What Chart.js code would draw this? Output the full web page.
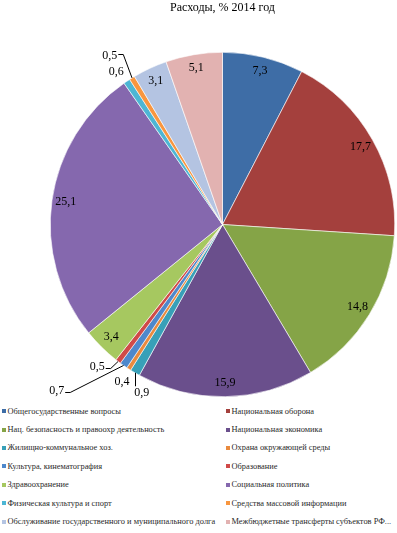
<!DOCTYPE html>
<html><head><meta charset="utf-8">
<script src="https://cdn.jsdelivr.net/npm/chart.js@4/dist/chart.umd.min.js"></script>
<style>
html,body{margin:0;padding:0;background:#fff;}
#wrap{position:relative;width:397px;height:533px;overflow:hidden;}
#c{position:absolute;left:0;top:0;}
#legend{position:absolute;left:0;top:402px;width:397px;display:grid;grid-template-columns:224px 173px;font-family:"Liberation Serif",serif;font-size:8.4px;color:#2a2a2a;}
.item{height:18.4px;display:flex;align-items:center;white-space:nowrap;}
.box{width:4px;height:4px;margin-left:2px;margin-right:1.5px;flex:none;}
</style></head><body>
<div id="wrap"><canvas id="c" width="397" height="400"></canvas><div id="legend"></div></div>
<script>
const chartTitle = 'Расходы, % 2014 год';
const categories = [
  'Общегосударственные вопросы',
  'Национальная оборона',
  'Нац. безопасность и правоохр деятельность',
  'Национальная экономика',
  'Жилищно-коммунальное хоз.',
  'Охрана окружающей среды',
  'Культура, кинематография',
  'Образование',
  'Здравоохранение',
  'Социальная политика',
  'Физическая культура и спорт',
  'Средства массовой информации',
  'Обслуживание государственного и муниципального долга',
  'Межбюджетные трансферты субъектов РФ...'
];
const values = [7.3, 17.7, 14.8, 15.9, 0.9, 0.4, 0.7, 0.5, 3.4, 25.1, 0.6, 0.5, 3.1, 5.1];
const valueLabels = values.map(v => String(v).replace('.', ','));
const colors = ['#3E6DA6','#A4403D','#85A447','#6A4F8C','#38A0B8','#E98A3E','#4E88CC','#D04A48','#A6C860','#8568AE','#4DB6D4','#F8963F','#B4C4E2','#E2B2B1'];

// label placement for small slices (offset angle in degrees, radius factor, leader type)
const outside = {
  4: {da: -4.9, r: 1.084, line: 'v'},
  5: {da: -0.4, r: 1.084},
  6: {da: 9.8, r: 1.365, line: 'h', ty: 1},
  7: {da: 4.1, r: 1.10, line: 'h', ty: 1.5},
  10: {da: -1.05, r: 1.08},
  11: {da: -2.0, r: 1.18, line: 'h', ty: -1}
};

const labelPlugin = {
  id: 'sliceLabels',
  afterDatasetsDraw(chart) {
    const ctx = chart.ctx;
    const meta = chart.getDatasetMeta(0);
    ctx.save();
    ctx.font = '12px "Liberation Serif"';
    ctx.fillStyle = '#000';
    ctx.strokeStyle = '#000';
    ctx.lineWidth = 1;
    ctx.textAlign = 'center';
    ctx.textBaseline = 'middle';
    meta.data.forEach((arc, i) => {
      const {x, y, startAngle, endAngle, outerRadius: R} = arc.getProps(['x','y','startAngle','endAngle','outerRadius'], true);
      const mid = (startAngle + endAngle) / 2;
      const text = valueLabels[i];
      const p = outside[i];
      if (!p) {
        const r = R * 0.92;
        ctx.fillText(text, x + r * Math.cos(mid), y + r * Math.sin(mid));
        return;
      }
      const a = mid + p.da * Math.PI / 180;
      const lx = x + p.r * R * Math.cos(a), ly = y + p.r * R * Math.sin(a);
      ctx.fillText(text, lx, ly);
      const ex = x + R * Math.cos(mid), ey = y + R * Math.sin(mid);
      if (p.line === 'v') {
        ctx.beginPath();
        ctx.moveTo(Math.round(ex) + 0.5, ey);
        ctx.lineTo(Math.round(ex) + 0.5, ly - 6.5);
        ctx.stroke();
      } else if (p.line === 'h') {
        const w = ctx.measureText(text).width;
        const tx = lx + w / 2 + 1;
        const ty = Math.round(ly + p.ty) + 0.5;
        ctx.beginPath();
        ctx.moveTo(tx, ty);
        ctx.lineTo(tx + 5, ty);
        ctx.lineTo(ex, ey);
        ctx.stroke();
      }
    });
    ctx.restore();
  }
};

const chart = new Chart(document.getElementById('c'), {
  type: 'pie',
  data: {
    labels: categories,
    datasets: [{data: values, backgroundColor: colors, borderColor: '#ffffff', borderWidth: 0.6}]
  },
  options: {
    responsive: false,
    animation: false,
    layout: {padding: {left: 50, right: 2, top: 0, bottom: 3}},
    plugins: {
      legend: {display: false},
      tooltip: {enabled: false},
      title: {display: true, text: chartTitle, color: '#000',
        font: {family: 'Liberation Serif', size: 12, weight: 'normal'},
        padding: {top: 1, bottom: 36.6}}
    }
  },
  plugins: [labelPlugin]
});

const legendEl = document.getElementById('legend');
categories.forEach((name, i) => {
  const item = document.createElement('div');
  item.className = 'item';
  const box = document.createElement('span');
  box.className = 'box';
  box.style.background = colors[i];
  const t = document.createElement('span');
  t.textContent = name;
  item.appendChild(box);
  item.appendChild(t);
  legendEl.appendChild(item);
});
</script>
</body></html>
